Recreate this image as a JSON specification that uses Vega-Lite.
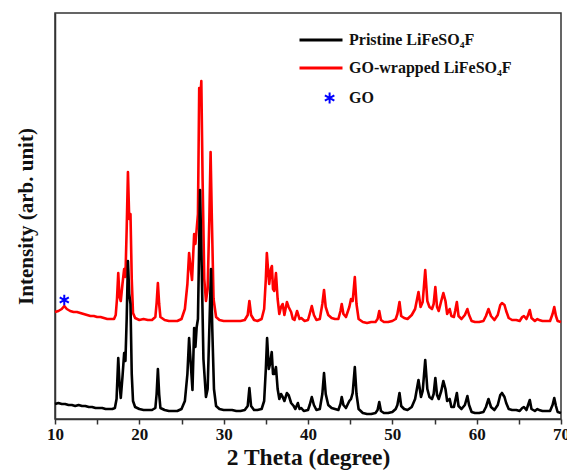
{
  "$schema": "https://vega.github.io/schema/vega-lite/v6.json",
  "autosize": {"type": "none"},
  "width": 506,
  "height": 406,
  "padding": {"left": 55, "top": 13, "right": 6, "bottom": 52},
  "background": "white",
  "datasets": {
    "pristine": [
      {"theta":10.0,"intensity":15},{"theta":10.4,"intensity":16},{"theta":10.8,"intensity":15},{"theta":11.2,"intensity":15},{"theta":11.6,"intensity":14},{"theta":12.0,"intensity":14},{"theta":12.4,"intensity":13},{"theta":12.8,"intensity":14},{"theta":13.2,"intensity":13},{"theta":13.6,"intensity":13},{"theta":14.0,"intensity":12},{"theta":14.4,"intensity":12},{"theta":14.8,"intensity":11},{"theta":15.2,"intensity":11},{"theta":15.6,"intensity":11},{"theta":16.0,"intensity":10},{"theta":16.4,"intensity":10},{"theta":16.8,"intensity":10},{"theta":17.1,"intensity":11},{"theta":17.3,"intensity":20},{"theta":17.5,"intensity":61},{"theta":17.65,"intensity":35},{"theta":17.8,"intensity":21},{"theta":18.0,"intensity":42},{"theta":18.2,"intensity":66},{"theta":18.35,"intensity":58},{"theta":18.5,"intensity":100},{"theta":18.65,"intensity":158},{"theta":18.8,"intensity":125},{"theta":18.95,"intensity":115},{"theta":19.1,"intensity":45},{"theta":19.25,"intensity":18},{"theta":19.5,"intensity":12},{"theta":20.0,"intensity":10},{"theta":20.5,"intensity":9},{"theta":21.0,"intensity":9},{"theta":21.5,"intensity":9},{"theta":21.9,"intensity":11},{"theta":22.05,"intensity":25},{"theta":22.2,"intensity":50},{"theta":22.35,"intensity":25},{"theta":22.5,"intensity":11},{"theta":23.0,"intensity":9},{"theta":23.5,"intensity":8},{"theta":24.0,"intensity":8},{"theta":24.5,"intensity":8},{"theta":25.0,"intensity":10},{"theta":25.4,"intensity":18},{"theta":25.7,"intensity":45},{"theta":25.9,"intensity":81},{"theta":26.1,"intensity":55},{"theta":26.3,"intensity":29},{"theta":26.5,"intensity":91},{"theta":26.65,"intensity":72},{"theta":26.8,"intensity":92},{"theta":26.95,"intensity":100},{"theta":27.2,"intensity":229},{"theta":27.4,"intensity":150},{"theta":27.6,"intensity":60},{"theta":27.9,"intensity":22},{"theta":28.1,"intensity":30},{"theta":28.3,"intensity":90},{"theta":28.5,"intensity":150},{"theta":28.65,"intensity":90},{"theta":28.85,"intensity":30},{"theta":29.1,"intensity":13},{"theta":29.5,"intensity":10},{"theta":30.0,"intensity":9},{"theta":30.5,"intensity":9},{"theta":31.0,"intensity":9},{"theta":31.5,"intensity":8},{"theta":32.0,"intensity":8},{"theta":32.5,"intensity":9},{"theta":32.85,"intensity":13},{"theta":33.05,"intensity":31},{"theta":33.25,"intensity":13},{"theta":33.6,"intensity":9},{"theta":34.0,"intensity":9},{"theta":34.5,"intensity":10},{"theta":34.8,"intensity":18},{"theta":35.0,"intensity":50},{"theta":35.15,"intensity":81},{"theta":35.35,"intensity":50},{"theta":35.5,"intensity":55},{"theta":35.7,"intensity":67},{"theta":35.85,"intensity":45},{"theta":36.0,"intensity":45},{"theta":36.2,"intensity":52},{"theta":36.4,"intensity":30},{"theta":36.6,"intensity":20},{"theta":36.8,"intensity":25},{"theta":37.0,"intensity":22},{"theta":37.2,"intensity":18},{"theta":37.5,"intensity":26},{"theta":37.7,"intensity":24},{"theta":38.0,"intensity":16},{"theta":38.3,"intensity":13},{"theta":38.5,"intensity":10},{"theta":38.8,"intensity":16},{"theta":39.0,"intensity":10},{"theta":39.2,"intensity":11},{"theta":39.5,"intensity":8},{"theta":40.0,"intensity":9},{"theta":40.2,"intensity":14},{"theta":40.45,"intensity":22},{"theta":40.7,"intensity":14},{"theta":41.0,"intensity":9},{"theta":41.4,"intensity":10},{"theta":41.7,"intensity":25},{"theta":41.9,"intensity":46},{"theta":42.1,"intensity":25},{"theta":42.4,"intensity":14},{"theta":42.8,"intensity":11},{"theta":43.2,"intensity":10},{"theta":43.6,"intensity":9},{"theta":43.85,"intensity":15},{"theta":44.0,"intensity":22},{"theta":44.2,"intensity":14},{"theta":44.5,"intensity":11},{"theta":44.9,"intensity":18},{"theta":45.1,"intensity":20},{"theta":45.3,"intensity":26},{"theta":45.55,"intensity":52},{"theta":45.75,"intensity":25},{"theta":46.0,"intensity":10},{"theta":46.5,"intensity":6},{"theta":47.0,"intensity":5},{"theta":47.5,"intensity":5},{"theta":48.0,"intensity":6},{"theta":48.25,"intensity":9},{"theta":48.45,"intensity":17},{"theta":48.65,"intensity":8},{"theta":49.0,"intensity":6},{"theta":49.5,"intensity":6},{"theta":50.0,"intensity":7},{"theta":50.4,"intensity":10},{"theta":50.6,"intensity":14},{"theta":50.85,"intensity":26},{"theta":51.05,"intensity":13},{"theta":51.4,"intensity":10},{"theta":51.8,"intensity":9},{"theta":52.3,"intensity":12},{"theta":52.7,"intensity":20},{"theta":53.1,"intensity":39},{"theta":53.4,"intensity":22},{"theta":53.6,"intensity":28},{"theta":53.9,"intensity":59},{"theta":54.15,"intensity":30},{"theta":54.4,"intensity":22},{"theta":54.7,"intensity":20},{"theta":54.9,"intensity":25},{"theta":55.1,"intensity":41},{"theta":55.3,"intensity":24},{"theta":55.5,"intensity":20},{"theta":55.8,"intensity":28},{"theta":56.05,"intensity":38},{"theta":56.3,"intensity":30},{"theta":56.5,"intensity":18},{"theta":56.8,"intensity":20},{"theta":57.0,"intensity":12},{"theta":57.3,"intensity":12},{"theta":57.45,"intensity":18},{"theta":57.65,"intensity":26},{"theta":57.85,"intensity":13},{"theta":58.2,"intensity":10},{"theta":58.6,"intensity":14},{"theta":58.9,"intensity":23},{"theta":59.1,"intensity":14},{"theta":59.4,"intensity":7},{"theta":59.8,"intensity":6},{"theta":60.3,"intensity":6},{"theta":60.8,"intensity":7},{"theta":61.1,"intensity":12},{"theta":61.4,"intensity":20},{"theta":61.7,"intensity":12},{"theta":62.1,"intensity":9},{"theta":62.5,"intensity":14},{"theta":62.8,"intensity":24},{"theta":63.0,"intensity":26},{"theta":63.3,"intensity":22},{"theta":63.5,"intensity":16},{"theta":63.8,"intensity":10},{"theta":64.2,"intensity":9},{"theta":64.7,"intensity":9},{"theta":65.1,"intensity":8},{"theta":65.4,"intensity":11},{"theta":65.6,"intensity":12},{"theta":65.9,"intensity":9},{"theta":66.1,"intensity":14},{"theta":66.3,"intensity":19},{"theta":66.5,"intensity":10},{"theta":66.9,"intensity":8},{"theta":67.2,"intensity":10},{"theta":67.4,"intensity":9},{"theta":67.8,"intensity":8},{"theta":68.3,"intensity":8},{"theta":68.7,"intensity":8},{"theta":69.0,"intensity":14},{"theta":69.2,"intensity":21},{"theta":69.4,"intensity":13},{"theta":69.6,"intensity":7},{"theta":70.0,"intensity":6}
    ],
    "gowrapped": [
      {"theta":10.0,"intensity":107},{"theta":10.4,"intensity":108},{"theta":10.8,"intensity":110},{"theta":11.1,"intensity":113},{"theta":11.4,"intensity":110},{"theta":11.8,"intensity":108},{"theta":12.2,"intensity":107},{"theta":12.6,"intensity":107},{"theta":13.0,"intensity":106},{"theta":13.4,"intensity":105},{"theta":13.8,"intensity":104},{"theta":14.2,"intensity":103},{"theta":14.6,"intensity":103},{"theta":15.0,"intensity":102},{"theta":15.4,"intensity":102},{"theta":15.8,"intensity":101},{"theta":16.2,"intensity":100},{"theta":16.6,"intensity":100},{"theta":17.0,"intensity":100},{"theta":17.2,"intensity":104},{"theta":17.35,"intensity":120},{"theta":17.5,"intensity":146},{"theta":17.65,"intensity":122},{"theta":17.8,"intensity":118},{"theta":18.0,"intensity":135},{"theta":18.2,"intensity":150},{"theta":18.35,"intensity":142},{"theta":18.5,"intensity":190},{"theta":18.65,"intensity":247},{"theta":18.8,"intensity":200},{"theta":18.95,"intensity":205},{"theta":19.1,"intensity":140},{"theta":19.25,"intensity":106},{"theta":19.5,"intensity":101},{"theta":20.0,"intensity":99},{"theta":20.5,"intensity":100},{"theta":21.0,"intensity":99},{"theta":21.5,"intensity":99},{"theta":21.9,"intensity":102},{"theta":22.05,"intensity":116},{"theta":22.2,"intensity":136},{"theta":22.35,"intensity":115},{"theta":22.5,"intensity":102},{"theta":23.0,"intensity":99},{"theta":23.5,"intensity":98},{"theta":24.0,"intensity":98},{"theta":24.5,"intensity":98},{"theta":25.0,"intensity":100},{"theta":25.4,"intensity":110},{"theta":25.7,"intensity":135},{"theta":25.9,"intensity":166},{"theta":26.1,"intensity":150},{"theta":26.25,"intensity":139},{"theta":26.5,"intensity":185},{"theta":26.65,"intensity":175},{"theta":26.8,"intensity":190},{"theta":26.95,"intensity":205},{"theta":27.1,"intensity":331},{"theta":27.22,"intensity":318},{"theta":27.35,"intensity":338},{"theta":27.5,"intensity":240},{"theta":27.7,"intensity":140},{"theta":27.9,"intensity":118},{"theta":28.1,"intensity":130},{"theta":28.3,"intensity":200},{"theta":28.45,"intensity":267},{"theta":28.6,"intensity":200},{"theta":28.8,"intensity":120},{"theta":29.1,"intensity":102},{"theta":29.5,"intensity":99},{"theta":30.0,"intensity":98},{"theta":30.5,"intensity":98},{"theta":31.0,"intensity":98},{"theta":31.5,"intensity":98},{"theta":32.0,"intensity":98},{"theta":32.5,"intensity":99},{"theta":32.85,"intensity":104},{"theta":33.05,"intensity":118},{"theta":33.25,"intensity":104},{"theta":33.6,"intensity":99},{"theta":34.0,"intensity":98},{"theta":34.5,"intensity":100},{"theta":34.8,"intensity":110},{"theta":35.0,"intensity":140},{"theta":35.12,"intensity":166},{"theta":35.3,"intensity":145},{"theta":35.4,"intensity":135},{"theta":35.6,"intensity":150},{"theta":35.72,"intensity":153},{"theta":35.85,"intensity":130},{"theta":36.0,"intensity":128},{"theta":36.2,"intensity":146},{"theta":36.4,"intensity":120},{"theta":36.6,"intensity":105},{"theta":36.8,"intensity":112},{"theta":37.0,"intensity":115},{"theta":37.2,"intensity":104},{"theta":37.5,"intensity":117},{"theta":37.7,"intensity":112},{"theta":38.0,"intensity":107},{"theta":38.2,"intensity":100},{"theta":38.4,"intensity":99},{"theta":38.7,"intensity":108},{"theta":39.0,"intensity":100},{"theta":39.2,"intensity":101},{"theta":39.6,"intensity":98},{"theta":40.0,"intensity":99},{"theta":40.2,"intensity":105},{"theta":40.45,"intensity":113},{"theta":40.7,"intensity":104},{"theta":41.0,"intensity":99},{"theta":41.4,"intensity":100},{"theta":41.7,"intensity":115},{"theta":41.9,"intensity":129},{"theta":42.1,"intensity":112},{"theta":42.4,"intensity":104},{"theta":42.8,"intensity":101},{"theta":43.2,"intensity":100},{"theta":43.6,"intensity":100},{"theta":43.85,"intensity":108},{"theta":44.0,"intensity":115},{"theta":44.2,"intensity":105},{"theta":44.5,"intensity":102},{"theta":44.9,"intensity":112},{"theta":45.1,"intensity":120},{"theta":45.3,"intensity":118},{"theta":45.55,"intensity":142},{"theta":45.75,"intensity":115},{"theta":46.0,"intensity":100},{"theta":46.5,"intensity":97},{"theta":47.0,"intensity":96},{"theta":47.5,"intensity":97},{"theta":48.0,"intensity":97},{"theta":48.25,"intensity":100},{"theta":48.45,"intensity":108},{"theta":48.65,"intensity":99},{"theta":49.0,"intensity":97},{"theta":49.5,"intensity":97},{"theta":50.0,"intensity":98},{"theta":50.4,"intensity":100},{"theta":50.6,"intensity":105},{"theta":50.85,"intensity":117},{"theta":51.05,"intensity":103},{"theta":51.4,"intensity":101},{"theta":51.8,"intensity":100},{"theta":52.3,"intensity":104},{"theta":52.7,"intensity":110},{"theta":53.1,"intensity":127},{"theta":53.35,"intensity":112},{"theta":53.6,"intensity":117},{"theta":53.9,"intensity":149},{"theta":54.15,"intensity":118},{"theta":54.4,"intensity":112},{"theta":54.7,"intensity":110},{"theta":54.9,"intensity":115},{"theta":55.1,"intensity":132},{"theta":55.3,"intensity":112},{"theta":55.5,"intensity":108},{"theta":55.8,"intensity":118},{"theta":56.05,"intensity":126},{"theta":56.3,"intensity":118},{"theta":56.5,"intensity":105},{"theta":56.8,"intensity":110},{"theta":57.0,"intensity":103},{"theta":57.3,"intensity":102},{"theta":57.45,"intensity":108},{"theta":57.65,"intensity":117},{"theta":57.85,"intensity":103},{"theta":58.2,"intensity":100},{"theta":58.6,"intensity":104},{"theta":58.9,"intensity":110},{"theta":59.1,"intensity":104},{"theta":59.4,"intensity":98},{"theta":59.8,"intensity":97},{"theta":60.3,"intensity":97},{"theta":60.8,"intensity":98},{"theta":61.1,"intensity":103},{"theta":61.4,"intensity":110},{"theta":61.7,"intensity":103},{"theta":62.1,"intensity":99},{"theta":62.5,"intensity":104},{"theta":62.8,"intensity":114},{"theta":63.0,"intensity":116},{"theta":63.3,"intensity":114},{"theta":63.5,"intensity":108},{"theta":63.8,"intensity":101},{"theta":64.2,"intensity":99},{"theta":64.7,"intensity":99},{"theta":65.1,"intensity":98},{"theta":65.4,"intensity":102},{"theta":65.6,"intensity":103},{"theta":65.9,"intensity":100},{"theta":66.1,"intensity":104},{"theta":66.3,"intensity":109},{"theta":66.5,"intensity":101},{"theta":66.9,"intensity":98},{"theta":67.2,"intensity":100},{"theta":67.4,"intensity":99},{"theta":67.8,"intensity":98},{"theta":68.3,"intensity":98},{"theta":68.7,"intensity":98},{"theta":69.0,"intensity":105},{"theta":69.2,"intensity":112},{"theta":69.4,"intensity":103},{"theta":69.6,"intensity":98},{"theta":70.0,"intensity":97}
    ],
    "go": [{"theta": 11.1, "intensity": 119}]
  },
  "encoding": {
    "x": {
      "field": "theta", "type": "quantitative",
      "scale": {"domain": [10, 70], "nice": false, "zero": false},
      "axis": {
        "title": "2 Theta (degree)",
        "values": [10, 15, 20, 25, 30, 35, 40, 45, 50, 55, 60, 65, 70],
        "labelExpr": "datum.value % 10 === 0 ? datum.label : ''",
        "labelFlush": false, "labelOverlap": false,
        "tickSize": 5, "labelPadding": 2, "titlePadding": 3, "titleFontSize": 23.5
      }
    },
    "y": {
      "field": "intensity", "type": "quantitative",
      "scale": {"domain": [0, 406], "nice": false},
      "axis": {"title": "Intensity (arb. unit)", "ticks": false, "labels": false, "titlePadding": 19}
    }
  },
  "layer": [
    {
      "data": {"name": "gowrapped"},
      "mark": {"type": "line", "strokeWidth": 2.6, "strokeJoin": "round"},
      "encoding": {
        "color": {
          "datum": "GO-wrapped LiFeSO₄F", "type": "nominal",
          "scale": {"domain": ["Pristine LiFeSO₄F", "GO-wrapped LiFeSO₄F", "GO"], "range": ["#000000", "#ff0000", "#0000ff"]},
          "legend": {
            "orient": "none", "legendX": 258, "legendY": 19, "title": null,
            "symbolType": "stroke", "symbolSize": 1850, "symbolStrokeWidth": 3,
            "labelFont": "Liberation Serif", "labelFontSize": 16, "labelFontWeight": "bold", "labelColor": "#111111",
            "labelOffset": 20, "labelLimit": 0, "rowPadding": 12, "padding": 0,
            "encode": {"symbols": {"update": {
              "shape": {"signal": "datum.value === 'GO' ? 'M0.4,-0.25L0.4,0.25M0.18,-0.125L0.62,0.125M0.18,0.125L0.62,-0.125' : 'stroke'"},
              "strokeWidth": {"signal": "datum.value === 'GO' ? 2 : 3"}
            }}}
          }
        }
      }
    },
    {
      "data": {"name": "pristine"},
      "mark": {"type": "line", "strokeWidth": 2.6, "strokeJoin": "round"},
      "encoding": {"color": {"datum": "Pristine LiFeSO₄F", "type": "nominal"}}
    },
    {
      "data": {"name": "go"},
      "mark": {"type": "point", "shape": "M0,-1L0,1M-0.87,-0.5L0.87,0.5M-0.87,0.5L0.87,-0.5", "filled": false, "size": 110, "strokeWidth": 2, "opacity": 1},
      "encoding": {"color": {"datum": "GO", "type": "nominal"}}
    }
  ],
  "config": {
    "font": "Liberation Serif",
    "view": {"stroke": "#333333", "strokeWidth": 1.5},
    "axis": {
      "grid": false,
      "labelFont": "Liberation Serif", "labelFontWeight": "bold", "labelFontSize": 17, "labelColor": "#111111",
      "titleFont": "Liberation Serif", "titleFontWeight": "bold", "titleFontSize": 21, "titleColor": "#111111",
      "domainColor": "#333333", "domainWidth": 1.5, "tickColor": "#333333", "tickWidth": 1.5
    }
  }
}
